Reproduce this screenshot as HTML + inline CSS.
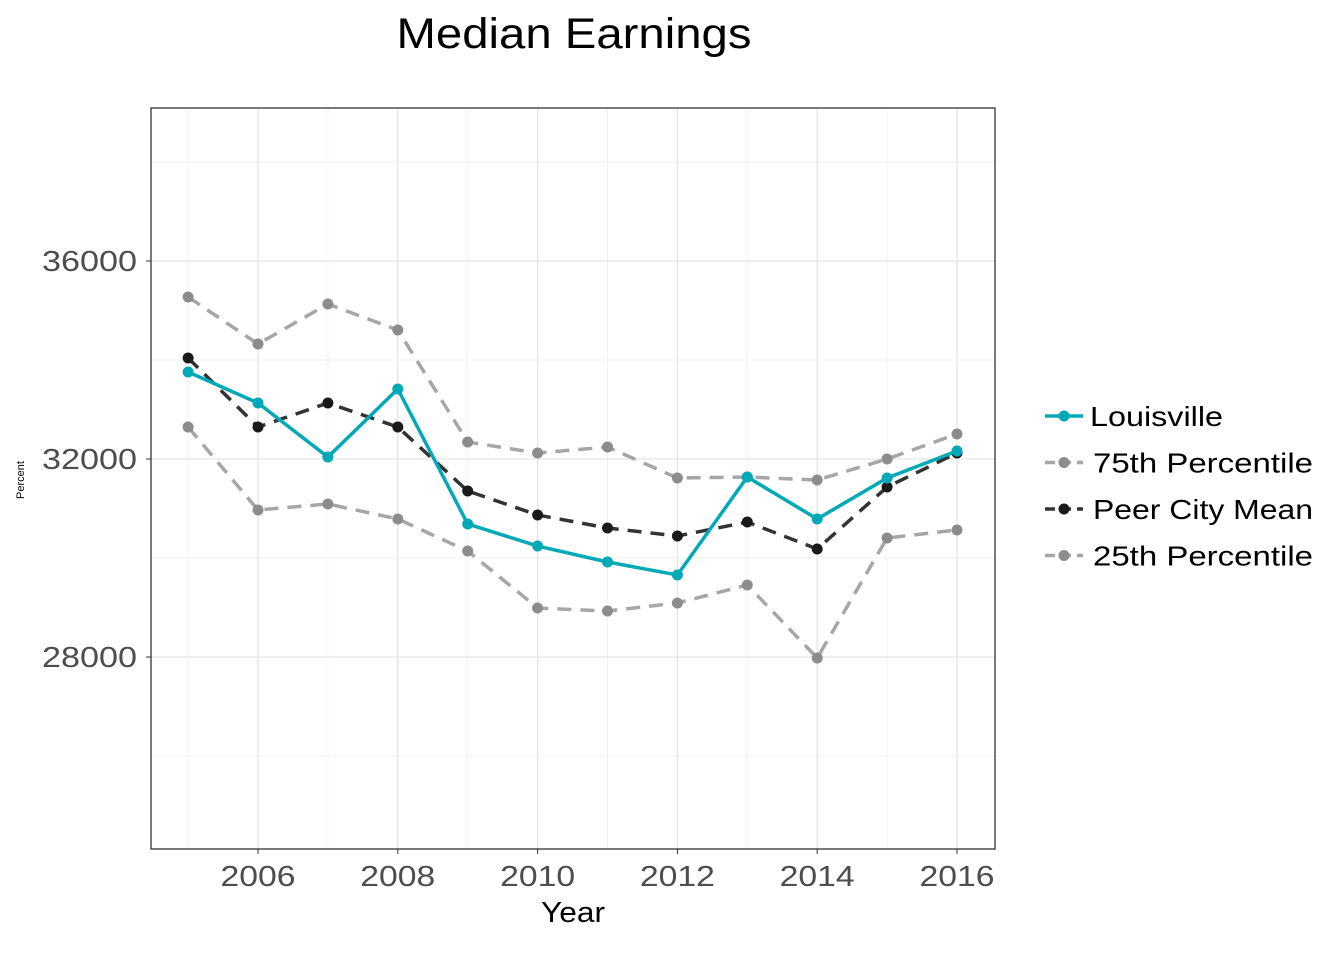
<!DOCTYPE html>
<html><head><meta charset="utf-8"><style>
body{margin:0;background:#fff;font-family:"Liberation Sans","DejaVu Sans",sans-serif}
</style></head><body>
<svg id="c" width="1344" height="960" xmlns="http://www.w3.org/2000/svg"></svg>
<script>
const years=[2005,2006,2007,2008,2009,2010,2011,2012,2013,2014,2015,2016];
const louisville=[33758,33131,32040,33414,30687,30242,29919,29657,31636,30788,31616,32162];
const p75=[35273,34323,35131,34606,32343,32121,32242,31616,31636,31576,32000,32505];
const peerMean=[34040,32646,33131,32646,31354,30869,30606,30444,30727,30182,31434,32121];
const p25=[32646,30970,31091,30788,30141,28990,28929,29091,29455,27980,30404,30566];
const xTicks=[2006,2008,2010,2012,2014,2016];
const yTicks=[28000,32000,36000];
const yMinor=[26000,30000,34000,38000];
const xMinor=[2005,2007,2009,2011,2013,2015];
const L=151,R=995,T=108,B=849;
const x=v=>258+(v-2006)*69.9;
const y=v=>459-(v-32000)*0.0495;
const s=document.getElementById('c');const NS='http://www.w3.org/2000/svg';
function el(t,a,p){const e=document.createElementNS(NS,t);for(const k in a)e.setAttribute(k,a[k]);(p||s).appendChild(e);return e;}
const grid=el('g',{});
yMinor.forEach(v=>el('line',{x1:L,x2:R,y1:y(v),y2:y(v),stroke:'#f2f2f2','stroke-width':1},grid));
xMinor.forEach(v=>el('line',{x1:x(v),x2:x(v),y1:T,y2:B,stroke:'#f2f2f2','stroke-width':1},grid));
yTicks.forEach(v=>el('line',{x1:L,x2:R,y1:y(v),y2:y(v),stroke:'#e5e5e5','stroke-width':1.3},grid));
xTicks.forEach(v=>el('line',{x1:x(v),x2:x(v),y1:T,y2:B,stroke:'#e5e5e5','stroke-width':1.3},grid));
const series=[
 {name:'25th Percentile',d:p25,c:'#a6a6a6',dash:'14 9',pc:'#8c8c8c'},
 {name:'75th Percentile',d:p75,c:'#a6a6a6',dash:'14 9',pc:'#8c8c8c'},
 {name:'Peer City Mean',d:peerMean,c:'#333333',dash:'14 9',pc:'#1a1a1a'},
 {name:'Louisville',d:louisville,c:'#00a9b7',dash:'',pc:'#00a9b7'}];
series.forEach(se=>{
 const g=el('g',{});
 const pts=years.map((yr,i)=>x(yr)+','+y(se.d[i])).join(' ');
 el('polyline',{points:pts,fill:'none',stroke:se.c,'stroke-width':3.5,'stroke-dasharray':se.dash},g);
 years.forEach((yr,i)=>{const c=el('circle',{cx:x(yr),cy:y(se.d[i]),r:5.5,fill:se.pc},g);});
});
el('rect',{x:L,y:T,width:R-L,height:B-T,fill:'none',stroke:'#333','stroke-width':1.3});
const LA='spacingAndGlyphs';
yTicks.forEach(v=>{const t=el('text',{x:137,y:y(v)+10,'text-anchor':'end','font-size':29,fill:'#4d4d4d',textLength:95,lengthAdjust:LA});t.textContent=v;el('line',{x1:146,x2:L,y1:y(v),y2:y(v),stroke:'#333'});});
xTicks.forEach(v=>{const t=el('text',{x:x(v),y:886,'text-anchor':'middle','font-size':29,fill:'#4d4d4d',textLength:75,lengthAdjust:LA});t.textContent=v;el('line',{x1:x(v),x2:x(v),y1:B,y2:B+5,stroke:'#333'});});
let t=el('text',{x:573,y:922,'text-anchor':'middle','font-size':29,fill:'#000',textLength:64,lengthAdjust:LA});t.textContent='Year';
t=el('text',{x:24,y:480,'text-anchor':'middle','font-size':11,fill:'#000',transform:'rotate(-90 24 480)'});t.textContent='Percent';
t=el('text',{x:574,y:48,'text-anchor':'middle','font-size':43,fill:'#000',textLength:355,lengthAdjust:LA});t.textContent='Median Earnings';
const leg=[['Louisville','#00a9b7','','#00a9b7',133],['75th Percentile','#a6a6a6','10 6','#8c8c8c',220],['Peer City Mean','#333','10 6','#1a1a1a',220],['25th Percentile','#a6a6a6','10 6','#8c8c8c',220]];
leg.forEach((l,i)=>{const yy=416+i*46.5;const g=el('g',{});
 el('line',{x1:1045,x2:1083,y1:yy,y2:yy,stroke:l[1],'stroke-width':3.5,'stroke-dasharray':l[2]},g);
 el('circle',{cx:1064,cy:yy,r:5.5,fill:l[3]},g);
 const tx=el('text',{x:i==0?1090:1093,y:yy+10,'font-size':28,fill:'#000',textLength:l[4],lengthAdjust:LA},g);tx.textContent=l[0];});
</script>
</body></html>
